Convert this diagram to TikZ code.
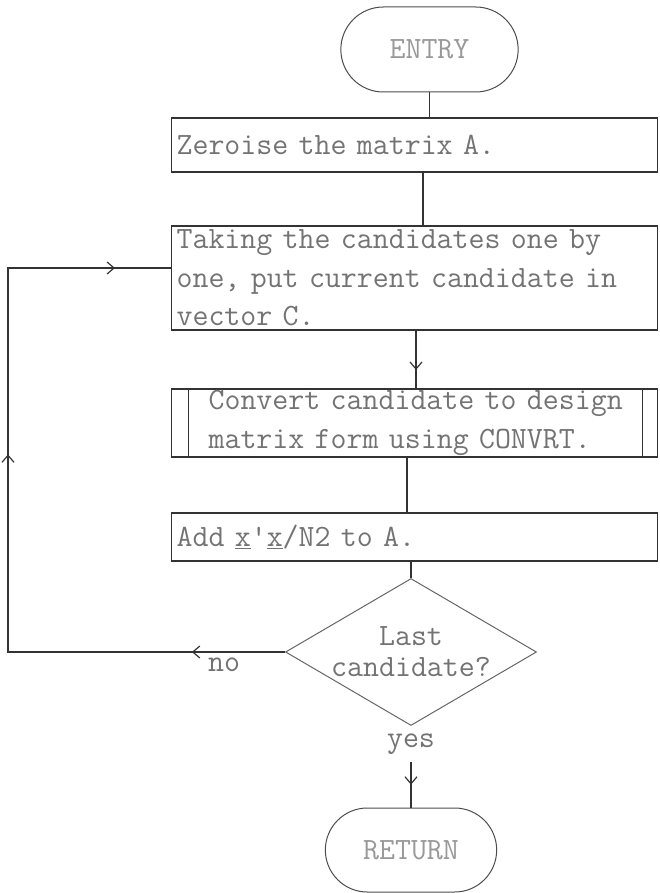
\documentclass[tikz,border=0pt]{standalone}
\usepackage{fontspec}
\usetikzlibrary{shapes.geometric,shapes.misc,arrows.meta,decorations.markings}

\begin{document}
\begin{tikzpicture}[x=1pt, y=-1pt,
  every node/.style={font={\fontsize{31}{38.5}\selectfont\ttfamily}, text=black!55},
  >={Straight Barb[length=7pt,width=12pt]},
  line/.style={line width=1.2pt, draw=black!80},
  terminal/.style={rounded rectangle, draw=black!70, line width=1pt,
    minimum width=184pt, minimum height=85pt, text=black!40},
  process/.style={rectangle, draw=black!80, line width=1.2pt, anchor=west,
    inner xsep=5pt, inner ysep=0pt, text width=476pt, align=left},
  predef/.style={process,
    path picture={
      \draw[line width=1pt, black!80] ([xshift=17pt]path picture bounding box.north west)
        -- ([xshift=17pt]path picture bounding box.south west);
      \draw[line width=1pt, black!80] ([xshift=-15pt]path picture bounding box.north east)
        -- ([xshift=-15pt]path picture bounding box.south east);
    }},
  decision/.style={diamond, draw=black!60, line width=1pt, aspect=1.7,
    minimum width=251pt, minimum height=147pt, inner sep=-8pt, align=center,
    font={\fontsize{31}{31}\selectfont\ttfamily}},
  arrowat/.style={postaction={decorate},
    decoration={markings, mark=at position #1 with {\arrow{>}}}}
]
% Page size
\useasboundingbox (0,0) rectangle (659,893);
\clip (0,0) rectangle (659,893);

% Start and end
\node[terminal] (entry) at (429.5,49.5) {ENTRY};
\node[terminal, minimum width=178pt, minimum height=84pt] (ret) at (411,850) {RETURN};

% Boxes
\node[process, minimum height=54pt] (zero) at (171,145) {Zeroise the matrix A.};
\node[process, minimum height=104pt] (take) at (171,278)
  {Taking the candidates one by\\one, put current candidate in\\vector C.};
\node[predef, minimum height=68pt] (conv) at (171,423)
  {\hspace*{32pt}Convert candidate to design\\\hspace*{32pt}matrix form using CONVRT.};
\node[process, minimum height=48pt] (add) at (171,537)
  {Add \underline{x}'\underline{x}/N2 to A.};

% Test
\node[decision] (dec) at (411,652) {Last\\candidate?};

% Loop corners
\coordinate (lowcorner) at (8,652);
\coordinate (topcorner) at (8,268);

% Main line
\draw[line] (entry.south) -- (entry.south |- zero.north);
\draw[line] (zero.south -| 423,0) -- (take.north -| 423,0);
\draw[line, arrowat=0.68] (take.south -| 416,0) -- (conv.north -| 416,0);
\draw[line] (conv.south -| 407,0) -- (add.north -| 407,0);
\draw[line] (add.south -| dec.north) -- (dec.north);
\draw[line, arrowat=0.72] (dec.south)
  -- node[pos=0.22, fill=white, inner ysep=8pt] {yes} (ret.north);

% Back to the next candidate
\draw[line, postaction={decorate},
  decoration={markings,
    mark=at position 0.113 with {\arrow{>}},
    mark=at position 0.576 with {\arrow{>}},
    mark=at position 0.932 with {\arrow{>}}}]
  (dec.west) -- node[pos=0.22, below=2pt] {no} (lowcorner)
  -- (topcorner) -- (topcorner -| take.west);
\end{tikzpicture}
\end{document}
